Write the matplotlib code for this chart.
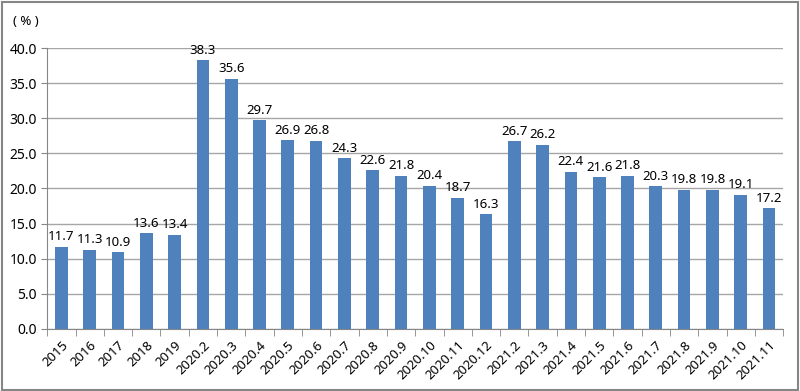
import numpy as np
from matplotlib import pyplot as plt
from matplotlib.patches import Rectangle

plt.rcParams['font.family'] = ['Noto Sans', 'Noto Sans CJK SC', 'DejaVu Sans']

categories = ["2015", "2016", "2017", "2018", "2019",
              "2020.2", "2020.3", "2020.4", "2020.5", "2020.6", "2020.7",
              "2020.8", "2020.9", "2020.10", "2020.11", "2020.12",
              "2021.2", "2021.3", "2021.4", "2021.5", "2021.6", "2021.7",
              "2021.8", "2021.9", "2021.10", "2021.11"]
values = [11.7, 11.3, 10.9, 13.6, 13.4,
          38.3, 35.6, 29.7, 26.9, 26.8, 24.3,
          22.6, 21.8, 20.4, 18.7, 16.3,
          26.7, 26.2, 22.4, 21.6, 21.8, 20.3,
          19.8, 19.8, 19.1, 17.2]
yticks = np.arange(0, 40.1, 5)

fig = plt.figure(figsize=(8, 3.91), dpi=100)
ax = fig.add_axes([0.059, 0.159, 0.92, 0.718])

x = np.arange(len(categories))
ax.bar(x, values, width=0.45, color="#4F81BD", zorder=3)
for xi, v in zip(x, values):
    ax.text(xi, v + 0.5, f"{v:.1f}", ha="center", va="bottom", fontsize=9.5, zorder=4)

ax.set_xlim(-0.5, len(categories) - 0.5)
ax.set_ylim(0, 40)
ax.set_yticks(yticks)
ax.set_yticklabels([f"{t:.1f}" for t in yticks], fontsize=10)
ax.yaxis.grid(True, color="#A6A6A6", linewidth=1, zorder=0)
ax.tick_params(axis="y", length=4, color="#868686")

ax.set_xticks(x)
ax.set_xticklabels(categories, rotation=45, ha="right", rotation_mode="anchor", fontsize=9.5)
ax.tick_params(axis="x", length=0, pad=7)
ax.set_xticks(np.arange(-0.5, len(categories)), minor=True)
ax.tick_params(axis="x", which="minor", length=5, color="#868686")

for s in ["top", "right"]:
    ax.spines[s].set_visible(False)
for s in ["left", "bottom"]:
    ax.spines[s].set_color("#868686")

fig.text(0.016, 0.945, "( % )", fontsize=9.5, fontweight="bold", va="center")

fig.patches.append(Rectangle((0.002, 0.003), 0.995, 0.993, transform=fig.transFigure,
                             fill=False, edgecolor="#868686", linewidth=1.5))

fig.savefig("out.png", dpi=100)
